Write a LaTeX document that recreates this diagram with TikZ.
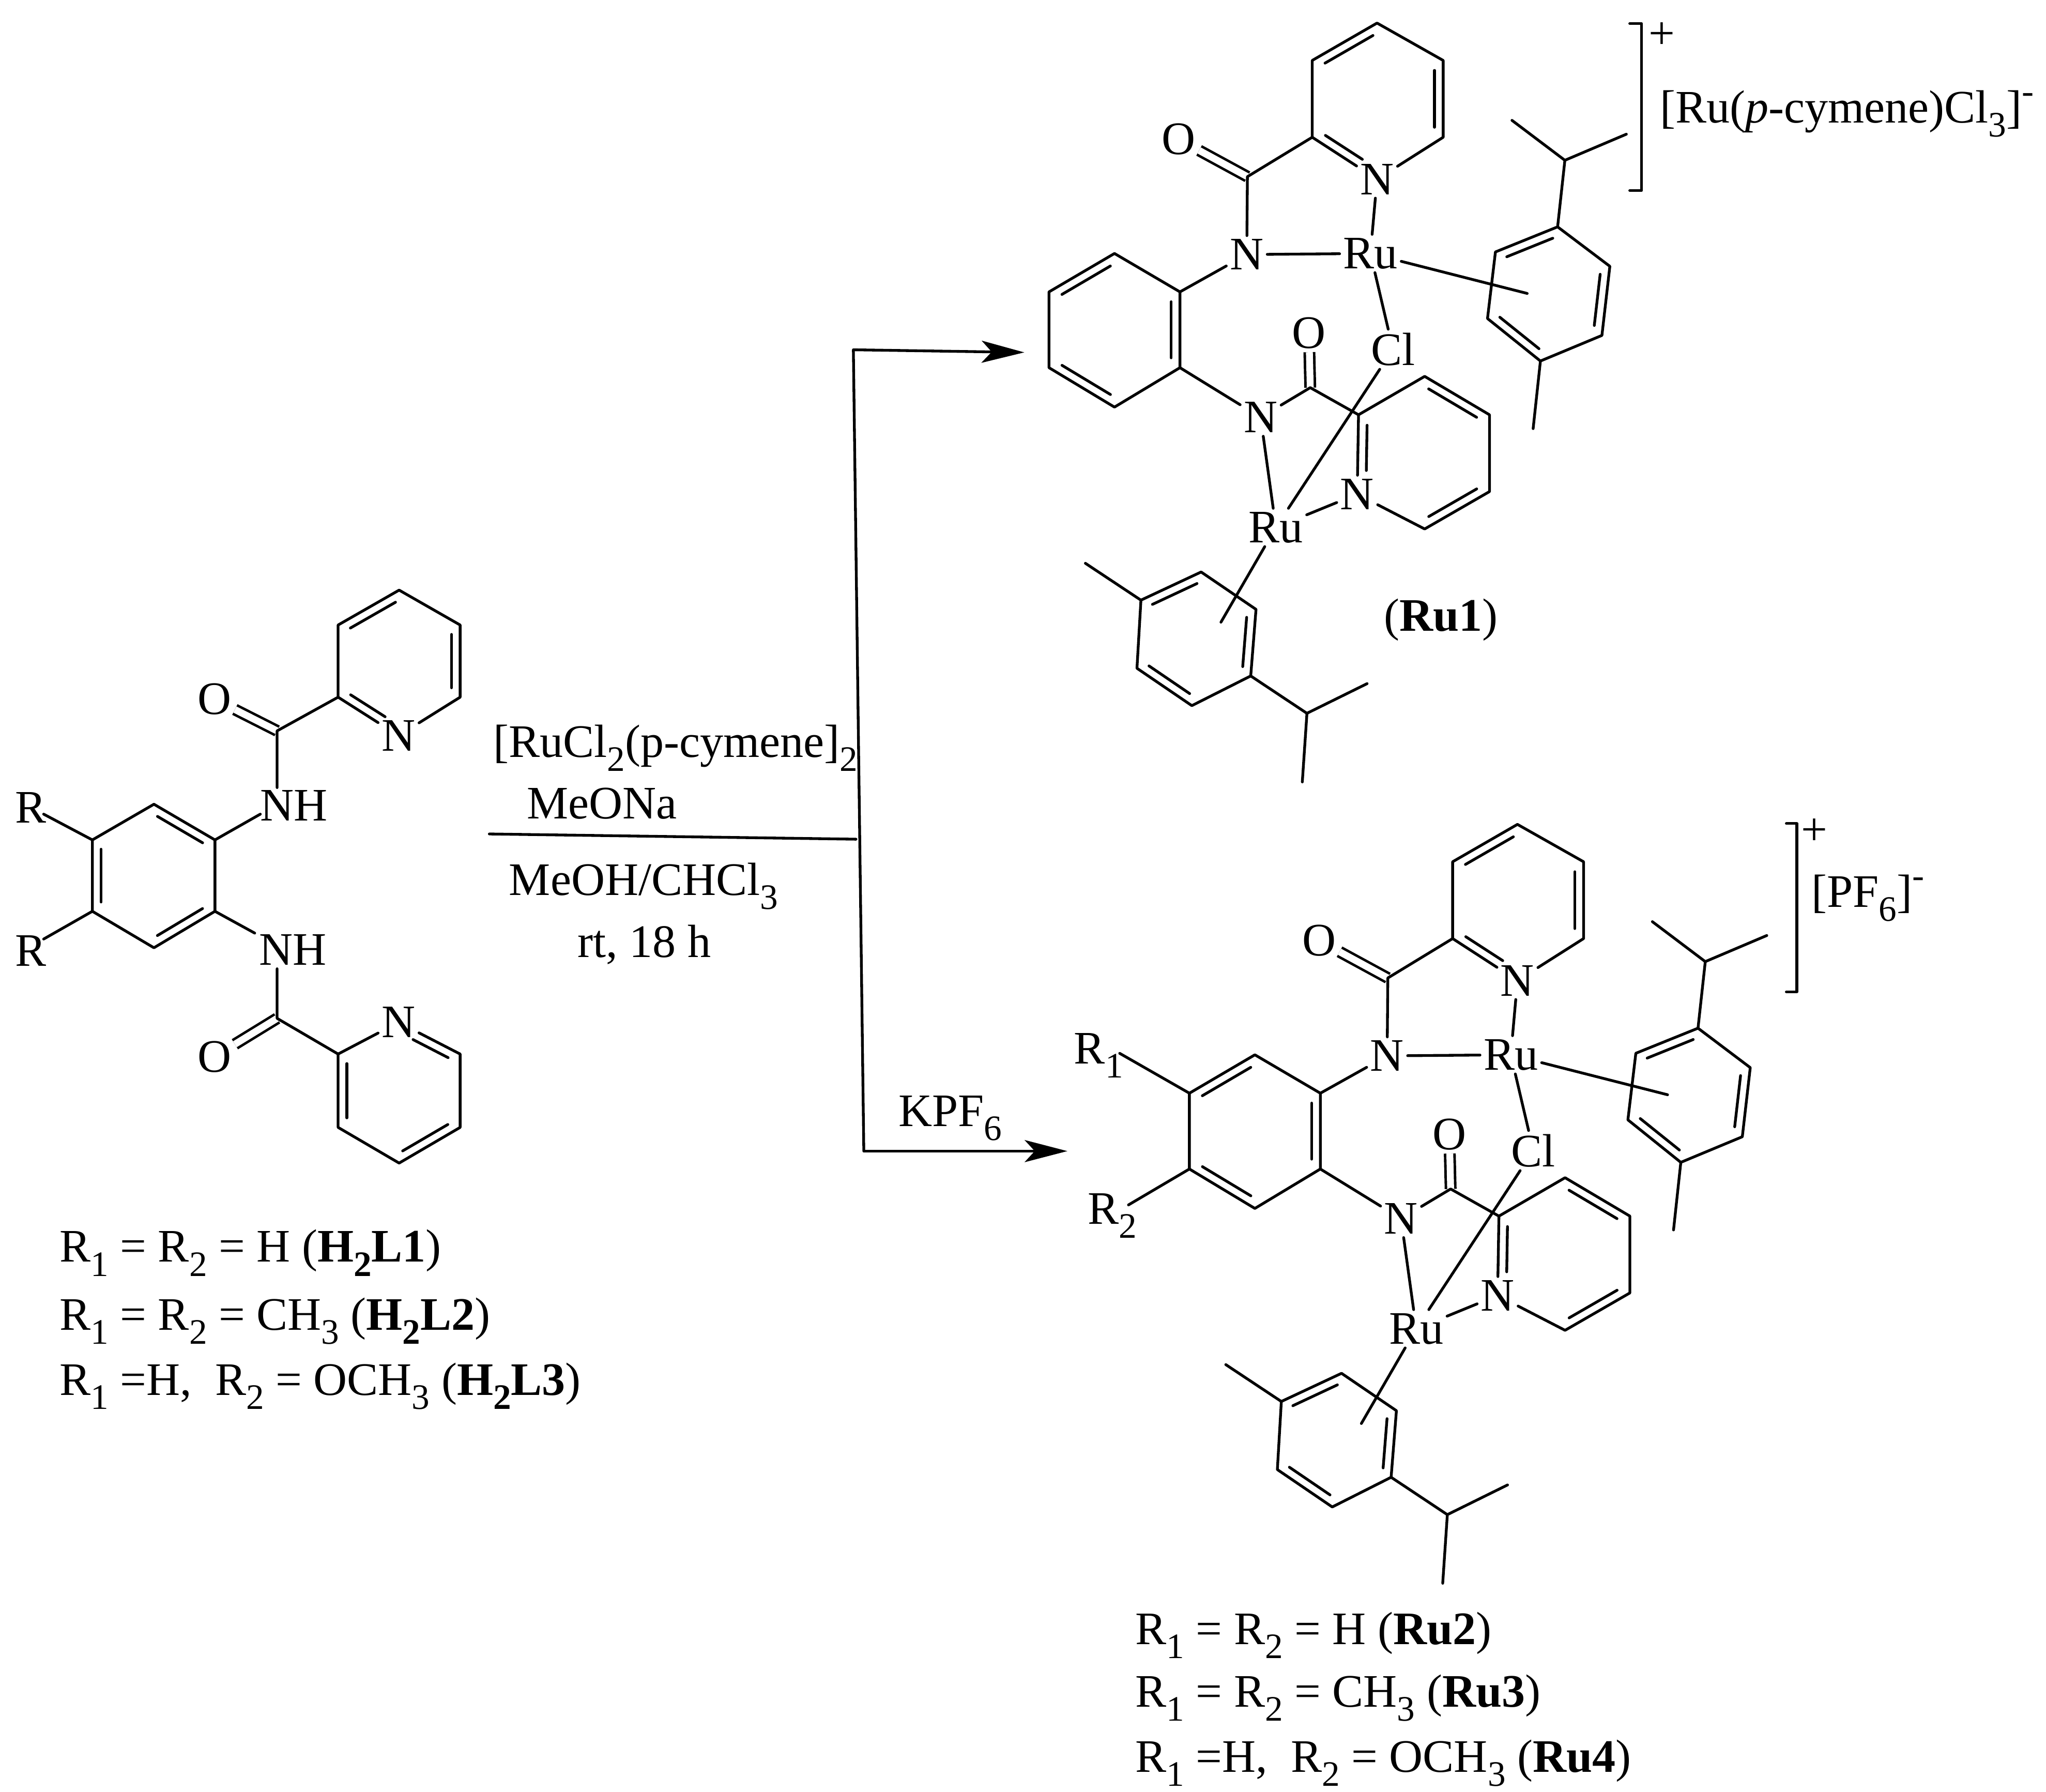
\documentclass[tikz,border=0pt]{standalone}
\usepackage{fontspec}
\setmainfont{Liberation Serif}
\usetikzlibrary{calc,arrows.meta}
\newcommand\lo[1]{\raisebox{-.3em}{\fontsize{7.8}{8}\selectfont #1}}
\newcommand\hi[1]{\raisebox{.42em}{\fontsize{7.8}{8}\selectfont #1}}
\newcommand\dbl[3][.13]{\draw[bond] ($(#2)!.13!(#3)!1.9pt!90:(#3)$) -- ($(#3)!#1!(#2)!1.9pt!-90:(#2)$);}
\tikzset{
  bond/.style={line width=.6pt,line cap=round,line join=round},
  cdbl/.style={line width=.55pt,double,double distance=1.5pt},
  atom/.style={inner sep=.6pt,font=\fontsize{10.15}{12}\selectfont},
  txt/.style={inner sep=0pt,anchor=base west,font=\fontsize{10.15}{12}\selectfont},
  rxn/.style={line width=.6pt,-{Stealth[length=9.3pt,width=4.8pt,inset=2.2pt]}},
}
% one dinuclear cation, drawn in its own frame
\newcommand\RuComplex[2]{%
\begin{scope}[shift={(#2)},x=.005073cm,y=-.003916cm]
 \node[atom] (#1O1) at (258,272) {O};
 \node[atom] (#1N1) at (361,497) {N};
 \node[atom] (#1Npy) at (558,350) {N};
 \node[atom] (#1Ru) at (548,495) {Ru};
 \node[atom] (#1Cl) at (582,682) {Cl};
 \node[atom] (#1O2) at (455,650) {O};
 \node[atom] (#1N2) at (382,815) {N};
 \node[atom] (#1Nq) at (528,965) {N};
 \node[atom] (#1Rb) at (405,1030) {Ru};
 \foreach \n/\p in {a1/{558,45},a2/{460,118},a3/{460,268},a5/{658,268},a6/{658,118},
   co1/{362,345},
   b1/{161,495},b2/{62,570},b3/{62,718},b4/{161,795},b5/{260,718},b6/{260,570},
   co2/{457,757},
   c1/{630,735},c2/{530,810},c4/{630,1033},c5/{728,960},c6/{728,810},
   d1/{831,443},d2/{737,492},d3/{725,622},d4/{805,705},d5/{898,655},d6/{910,520},
   di/{842,313},dm1/{762,235},dm2/{935,262},dm/{794,837},dc/{785,573},
   e1/{292,1117},e2/{201,1172},e3/{195,1305},e4/{278,1378},e5/{367,1320},e6/{375,1190},
   ei/{452,1393},em1/{543,1335},em2/{445,1527},em/{117,1100},ec/{322,1215}}
   {\coordinate (#1\n) at (\p);}
 \draw[cdbl] (#1co1) -- (#1O1);
 \draw[cdbl] (#1co2) -- (#1O2);
 % upper pyridine and amide
 \draw[bond] (#1a3) -- (#1a2) -- (#1a1) -- (#1a6) -- (#1a5) -- (#1Npy) -- (#1a3) -- (#1co1) -- (#1N1);
 \dbl{#1a1}{#1a2}\dbl[.3]{#1a3}{#1Npy}\dbl{#1a5}{#1a6}
 % central benzene
 \draw[bond] (#1b1) -- (#1b2) -- (#1b3) -- (#1b4) -- (#1b5) -- (#1b6) -- cycle;
 \dbl{#1b1}{#1b2}\dbl{#1b3}{#1b4}\dbl{#1b5}{#1b6}
 \draw[bond] (#1b6) -- (#1N1) -- (#1Ru) -- (#1Npy);
 \draw[bond] (#1b5) -- (#1N2) -- (#1co2) -- (#1c2);
 % lower pyridine
 \draw[bond] (#1c2) -- (#1c1) -- (#1c6) -- (#1c5) -- (#1c4) -- (#1Nq) -- (#1c2);
 \dbl[.3]{#1c2}{#1Nq}\dbl{#1c4}{#1c5}\dbl{#1c6}{#1c1}
 % metal bonds
 \draw[bond] (#1Ru) -- (#1Cl);
 \draw[bond] (#1Ru) -- (#1dc);
 \draw[bond] (#1N2) -- (#1Rb);
 \draw[bond] (#1Cl) -- (#1Rb);
 \draw[bond] (#1Nq) -- (#1Rb);
 \draw[bond] (#1Rb) -- (#1ec);
 % upper p-cymene
 \draw[bond] (#1d1) -- (#1d2) -- (#1d3) -- (#1d4) -- (#1d5) -- (#1d6) -- cycle;
 \dbl{#1d1}{#1d2}\dbl{#1d3}{#1d4}\dbl{#1d5}{#1d6}
 \draw[bond] (#1d1) -- (#1di) -- (#1dm1);
 \draw[bond] (#1di) -- (#1dm2);
 \draw[bond] (#1d4) -- (#1dm);
 % lower p-cymene
 \draw[bond] (#1e1) -- (#1e2) -- (#1e3) -- (#1e4) -- (#1e5) -- (#1e6) -- cycle;
 \dbl{#1e1}{#1e2}\dbl{#1e3}{#1e4}\dbl{#1e5}{#1e6}
 \draw[bond] (#1e2) -- (#1em);
 \draw[bond] (#1e5) -- (#1ei) -- (#1em1);
 \draw[bond] (#1ei) -- (#1em2);
\end{scope}}
\begin{document}
\begin{tikzpicture}[x=.01cm,y=-.01cm]
\useasboundingbox (0,0) rectangle (1568,1372.7);
\fill[white] (0,0) rectangle (1568,1372.7);

% ----- free ligand
\begin{scope}[shift={(0,427.85)},x=.004295cm,y=-.003032cm]
 \node[atom] (LO1) at (383,355) {O};
 \node[atom] (LN1) at (712,447) {N};
 \node[atom] (LH1) at (525,623) {NH};
 \node[atom] (LH2) at (523,987) {NH};
 \node[atom] (LO2) at (383,1257) {O};
 \node[atom] (LN2) at (712,1170) {N};
 \node[atom] (LR1) at (55,628) {R};
 \node[atom] (LR2) at (55,990) {R};
 \foreach \n/\p in {a1/{713,80},a2/{604,168},a3/{604,350},a5/{822,350},a6/{822,168},
   c1/{495,435},c2/{495,1160},
   b1/{275,620},b2/{165,710},b3/{165,890},b4/{275,982},b5/{384,890},b6/{384,710},
   d2/{604,1250},d3/{604,1435},d4/{713,1525},d5/{822,1435},d6/{822,1250},
   h1a/{495,578},h1b/{465,645},h2a/{455,945},h2b/{495,1035},r1e/{78,645},r2e/{78,960}}
   {\coordinate (L\n) at (\p);}
 \draw[cdbl] (Lc1) -- (LO1);
 \draw[cdbl] (Lc2) -- (LO2);
 \draw[bond] (La3) -- (La2) -- (La1) -- (La6) -- (La5) -- (LN1) -- (La3) -- (Lc1) -- (Lh1a);
 \dbl{La1}{La2}\dbl[.3]{La3}{LN1}\dbl{La5}{La6}
 \draw[bond] (Lb1) -- (Lb2) -- (Lb3) -- (Lb4) -- (Lb5) -- (Lb6) -- cycle;
 \dbl{Lb6}{Lb1}\dbl{Lb2}{Lb3}\dbl{Lb4}{Lb5}
 \draw[bond] (Lb6) -- (Lh1b);
 \draw[bond] (Lb5) -- (Lh2a);
 \draw[bond] (Lb2) -- (Lr1e);
 \draw[bond] (Lb3) -- (Lr2e);
 \draw[bond] (Lh2b) -- (Lc2) -- (Ld2);
 \draw[bond] (Ld2) -- (Ld3) -- (Ld4) -- (Ld5) -- (Ld6) -- (LN2) -- (Ld2);
 \dbl{Ld2}{Ld3}\dbl{Ld4}{Ld5}\dbl[.3]{Ld6}{LN2}
\end{scope}

% ----- complexes
\RuComplex{A}{772.5,0}
\RuComplex{B}{880.1,614}

% extra R groups of the second complex
\begin{scope}[shift={(772.5,614.05)},x=.0048cm,y=-.003916cm]
 \coordinate (r1a) at (178,492);
 \coordinate (r2a) at (192,788);
\end{scope}
\draw[bond] (Bb2) -- (r1a);
\draw[bond] (Bb3) -- (r2a);

% ----- brackets
\coordinate (k1a) at (1249,18); \coordinate (k1b) at (1258,18);
\coordinate (k1c) at (1258,146); \coordinate (k1d) at (1249,146);
\draw[bond] (k1a) -- (k1b) -- (k1c) -- (k1d);
\coordinate (k2a) at (1369,631); \coordinate (k2b) at (1377,631);
\coordinate (k2c) at (1377,760); \coordinate (k2d) at (1369,760);
\draw[bond] (k2a) -- (k2b) -- (k2c) -- (k2d);

% ----- reaction scheme
\coordinate (rs) at (375,639);
\coordinate (re) at (656,643);
\coordinate (vt) at (654,268);
\coordinate (vb) at (662,882);
\coordinate (ht) at (785,270);
\coordinate (hb) at (818,882);
\draw[bond] (rs) -- (re);
\draw[bond] (vt) -- (vb);
\draw[rxn] (vt) -- (ht);
\draw[rxn] (vb) -- (hb);

% ----- texts
\node[txt] (t1) at (377.5,580) {[RuCl\lo{2}(p-cymene]\lo{2}};
\node[txt] (t2) at (403,627.5) {MeONa};
\node[txt] (t3) at (389.5,686) {MeOH/CHCl\lo{3}};
\node[txt] (t4) at (442,733.5) {rt, 18 h};
\node[txt] (t5) at (688,863) {KPF\lo{6}};
\node[txt] (l1) at (45,967) {R\lo{1} = R\lo{2} = H (\textbf{H\lo{2}L1})};
\node[txt] (l2) at (45,1019) {R\lo{1} = R\lo{2} = CH\lo{3} (\textbf{H\lo{2}L2})};
\node[txt] (l3) at (45,1069) {R\lo{1} =H,\ \ R\lo{2} = OCH\lo{3} (\textbf{H\lo{2}L3})};
\node[txt] (m1) at (869.5,1260) {R\lo{1} = R\lo{2} = H (\textbf{Ru2})};
\node[txt] (m2) at (869.5,1308) {R\lo{1} = R\lo{2} = CH\lo{3} (\textbf{Ru3})};
\node[txt] (m3) at (869.5,1358) {R\lo{1} =H,\ \ R\lo{2} = OCH\lo{3} (\textbf{Ru4})};
\node[txt] (n1) at (1060,483.5) {(\textbf{Ru1})};
\node[txt] (n2) at (1271.5,94) {[Ru(\textit{p}-cymene)Cl\lo{3}]\hi{-}};
\node[txt] (n3) at (1387.5,695) {[PF\lo{6}]\hi{-}};
\node[atom] (p1) at (1273.5,27.5) {+};
\node[atom] (p2) at (1390.5,637.5) {+};
\node[txt] (R1) at (822.5,815) {R\lo{1}};
\node[txt] (R2) at (833,938) {R\lo{2}};
\end{tikzpicture}
\end{document}
